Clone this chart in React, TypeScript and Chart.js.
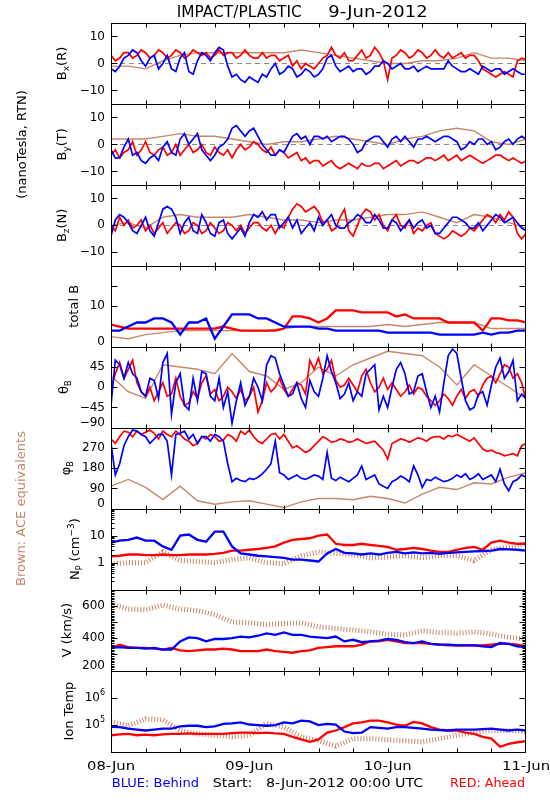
import React, { useEffect, useRef } from "react";
import { Chart, registerables } from "chart.js";

Chart.register(...registerables);

// ---- time base (hours since 8-Jun-2012 00:00 UTC) ----
const HOURS_FINE = [0, 1.5, 3, 4.5, 6, 7.5, 9, 10.5, 12, 13.5, 15, 16.5, 18, 19.5, 21, 22.5, 24, 25.5, 27, 28.5, 30, 31.5, 33, 34.5, 36, 37.5, 39, 40.5, 42, 43.5, 45, 46.5, 48, 49.5, 51, 52.5, 54, 55.5, 57, 58.5, 60, 61.5, 63, 64.5, 66, 67.5, 69, 70.5, 72];
const HOURS_COARSE = [0, 3, 6, 9, 12, 15, 18, 21, 24, 27, 30, 33, 36, 39, 42, 45, 48, 51, 54, 57, 60, 63, 66, 69, 72];
const MID_OFFSET_H = 0.75; // the *Mid arrays are read half-way between HOURS_FINE samples
const X_TICK_HOURS = [6, 12, 18, 24, 30, 36, 42, 48, 54, 60, 66];
const DAY_HOURS = [0, 24, 48, 72];
const DAY_LABELS = ["08-Jun", "09-Jun", "10-Jun", "11-Jun"];

// ---- Bx (R) ----
const bxBlue = [-2, -1, 3, 4, -1, 3, 0, -2, 2, -3, 1, 3, 4, 5, -5, -6, -5, -7, -5, 0, -3, -2, -4, -3, -4, 2, -1, -2, -3, -2, -3, -1, 0, -1, -2, -1, -2, -2, -2, 1, -2, -3, -3, -1, -3, -2, -3, -3, -4];
const bxBlueMid = [-3, 2, 5, 1, 2, -2, 3, -3, 4, -4, 4, 1, 6, -1, -4, -7, -6, -4, -2, -4, -1, -5, -2, -5, -2, 3, -3, -1, -2, -4, -1, 1, -2, 0, -2, -3, -1, -2, -2, -1, -3, -2, -4, -2, -2, -4, -2, -4];
const bxRed = [3, 2, 4, 3, 4, 3, 4, 3, 4, 3, 4, 4, 3, 3, 4, 3, 3, 2, 2, 3, 2, -1, -2, -1, 0, 3, 3, 4, 1, 5, 3, 4, -6, 3, 4, 3, 4, 3, 3, 4, 3, 2, 3, -2, -4, -4, -4, 1, 1.5];
const bxRedMid = [1, 4, 2, 5, 2, 5, 2, 5, 2, 5, 3, 2, 5, 4, 2, 5, 2, 4, 3, 1, 3, 1, 0, -2, 2, 6, 2, 1, 3, 2, 6, 1, 2, 5, 2, 5, 2, 5, 2, 2, 4, 3, 1, -3, -5, -3, -5, 2];
const bxBrown = [-1, -1, -2, 1, 3, 4, 4, 4, 4, 4, 4, 5, 4, 3, 2, 1, 0, 0, 1, 1, 2, 4, 2, 2, 1];

// ---- By (T) ----
const byBlue = [-2, -5, 2, -3, -7, -4, -1, -3, 2, 0, 4, -4, -4, 0, 6, 5, 5, 3, -2, -4, -3, 3, 2, 0, 3, 3, 2, 3, 0, -2, 2, 3, -1, 3, 3, -1, 2, 2, 2, 3, 1, -1, 0, 2, 1, -1, 2, 2, 2];
const byBlueMid = [-5, -1, -4, -6, -5, -6, 1, -4, 4, 2, -2, -6, -1, 2, 7, 3, 6, 0, -4, -2, 0, 4, 3, 3, 2, 1, 3, 2, -3, 1, 3, 1, 2, 1, 1, 2, 3, 1, 3, 2, -2, 1, 2, 0, -2, 1, 0, 3];
const byRed = [-4, -5, -2, -4, 1, -4, -1, -3, -4, 0, -2, -3, -1, -4, -5, 0, -1, 0, -3, -4, -3, -4, -6, -7, -6, -7, -8, -8, -8, -7, -8, -7, -8, -6, -7, -6, -6, -5, -5, -6, -4, -5, -5, -7, -5, -4, -6, -6, -6];
const byRedMid = [-2, -3, 1, -2, -3, -2, -4, 0, -2, -3, 0, -4, -3, -2, -2, -2, 1, -2, -1, -2, -5, -3, -5, -6, -8, -6, -9, -7, -9, -8, -7, -9, -7, -8, -6, -7, -5, -6, -4, -5, -6, -4, -6, -6, -4, -5, -5, -7];
const byBrown = [2, 2, 2, 3, 4, 3, 3, 2, 1, 0, 1, 1, 2, 3, 2, 1, 0, 2, 3, 5, 6, 5, 1, 0, 2];

// ---- Bz (N) ----
const bzBlue = [-4, 4, 1, -3, 3, -4, 6, 6, -3, 3, -3, 1, -4, 2, -5, -1, 1, 3, 2, 4, 1, -1, -3, 1, 3, 2, 0, -1, 2, 3, 1, 2, -1, 1, 0, -1, 2, 0, -3, 1, 3, 1, -1, -2, 2, 3, 2, 1, -2];
const bzBlueMid = [2, 3, -2, 0, -2, 1, 7, 3, 1, -2, 4, -3, 1, -3, -3, -4, 4, 5, 4, -1, 3, 2, -1, -2, 0, 4, -1, 1, 4, 1, 4, -1, 2, -2, 2, 1, -1, -3, -1, 3, 2, -1, 1, 0, 4, 1, 3, -1];
const bzRed = [0, 3, 2, 0, -2, -3, 1, -1, 0, -2, 0, -2, -1, -2, 0, 0, -1, 1, -2, -3, -1, 6, 7, 6, 5, 2, -1, 6, -4, 4, 5, 4, -2, 4, -1, -3, -2, 1, -4, -4, -3, -3, -2, 2, 3, 4, 5, -3, -3];
const bzRedMid = [-2, 0, -1, 2, 0, -1, -3, 1, -3, 1, -3, 1, -3, 1, -2, -3, 1, -1, 0, 0, 3, 8, 5, 7, 1, -2, 3, -2, 0, 6, 2, 0, 2, 0, 2, -1, 0, -3, -5, -2, -4, -1, 0, 4, 1, 2, 3, -5];
const bzBrown = [0, 1, -1, 3, 4, 3, 3, 3, 4, 3, 2, 2, 1, 2, 2, 3, 4, 4, 5, 3, 1, 4, 3, 1, -1];

// ---- total B ----
const btBlue = [4, 4, 5, 6, 6, 7, 7, 6, 3, 6, 6, 7, 2, 5, 8, 8, 8, 7, 7, 6, 5, 5, 5, 5, 4.5, 4.5, 4, 4, 4, 4, 4, 4, 3.5, 3.5, 3.5, 3.5, 3.5, 3.5, 3, 3, 3, 3, 3, 3.5, 3, 3.5, 3.5, 4, 4];
const btRed = [5.5, 5, 4.5, 4.5, 4.5, 4.5, 4.5, 4.5, 4.5, 4.5, 4.5, 4.5, 4.5, 5, 4.5, 4, 4, 4, 4, 4, 4.5, 7.5, 7.5, 7, 6, 7, 9, 9, 9, 8.5, 8.5, 8.5, 8.5, 7.5, 8, 7, 7, 7, 7, 6, 6, 6, 6, 4, 7, 7, 6.5, 6.5, 6];
const btBrown = [2.5, 2, 3, 3.5, 4, 4, 4, 4, 4, 4, 4.5, 5, 5, 5, 5, 5, 5.5, 5, 5.5, 6, 6, 6, 4.5, 4.5, 4.5];

// ---- theta B ----
const thBlue = [-40, 50, 55, 20, -20, 15, 55, -60, 30, -50, -30, 30, -30, -45, -80, 10, -20, 0, 50, 65, 5, -15, -25, 15, -20, 70, 10, -15, -30, -20, 40, -50, -45, 40, 30, -10, 30, -45, -55, 70, 75, -30, -45, -10, 5, 65, 35, -30, -25];
const thBlueMid = [60, 20, 30, -10, 20, -25, 75, 10, -40, 20, 35, -20, 20, -10, -30, -40, 20, -30, 70, 30, -20, 10, -45, -10, 20, 35, -25, 10, -10, 30, 50, -20, 0, 55, -15, 25, -10, -20, 10, 85, 20, -50, -15, -40, 45, 20, 60, -15];
const thRed = [0, 55, 40, 10, -20, -30, 10, -15, -20, -35, -25, 25, -5, -20, -10, -5, -20, -55, 10, 0, -5, -5, 5, 60, 65, 40, 15, 5, 5, 25, 10, 0, -5, -5, -10, -15, -5, -30, -30, -25, -20, -25, -5, 5, 25, 30, 45, 30, -30];
const thRedMid = [30, 20, 60, -10, 0, -10, -20, 20, -40, -10, 10, -15, -30, 0, -25, -30, 0, -30, -10, 20, -20, 10, -15, 40, 30, 60, 0, 20, -10, 40, -10, 20, 10, -20, 5, 0, -20, -40, -15, -40, -5, -10, -20, 20, 10, 50, 20, 10];
const thBrown = [25, -10, -25, 50, 45, 40, 30, 75, 35, 25, -5, 10, 45, 25, 50, 65, 80, 75, 70, 45, 5, 50, 25, 0, -25];

// ---- phi B ----
const phBlue = [290, 200, 320, 345, 320, 310, 330, 150, 335, 310, 290, 320, 330, 300, 120, 125, 135, 140, 175, 300, 150, 140, 135, 140, 145, 250, 125, 130, 135, 190, 140, 110, 90, 130, 135, 190, 95, 125, 130, 125, 150, 155, 140, 130, 150, 175, 80, 130, 140];
const phBlueMid = [150, 280, 350, 330, 290, 330, 300, 330, 345, 330, 320, 300, 320, 200, 135, 120, 130, 155, 200, 160, 130, 150, 130, 150, 130, 135, 140, 120, 150, 130, 150, 100, 120, 145, 120, 150, 130, 140, 120, 135, 140, 130, 155, 140, 120, 110, 120, 150];
const phRed = [310, 320, 340, 345, 340, 335, 345, 320, 330, 300, 290, 310, 320, 305, 320, 345, 350, 300, 310, 335, 330, 270, 265, 260, 300, 310, 300, 305, 300, 300, 295, 280, 220, 300, 305, 305, 310, 315, 320, 325, 330, 310, 315, 265, 260, 245, 240, 235, 290];
const phRedMid = [290, 345, 320, 330, 350, 310, 330, 345, 310, 280, 320, 330, 300, 330, 300, 330, 320, 290, 330, 310, 300, 280, 250, 280, 320, 295, 310, 295, 310, 290, 300, 260, 290, 310, 295, 315, 300, 320, 310, 320, 320, 300, 290, 255, 250, 235, 245, 280];
const phBrown = [100, 130, 95, 40, 100, 35, 20, 30, 35, 20, 5, 30, 45, 45, 40, 55, 45, 25, 65, 95, 85, 115, 110, 140, 160];

// ---- proton density ----
const npBlue = [5.5, 6.5, 7, 8.5, 6.5, 6.5, 4, 3, 10, 11, 7, 6, 14, 14, 4, 2.2, 2, 1.8, 1.7, 1.6, 1.5, 1.3, 1.3, 1.2, 1.1, 2.2, 3.2, 2.3, 2.2, 2, 2.2, 2, 2.3, 2.5, 2.2, 2.4, 2.2, 2.3, 2.1, 2.3, 2.4, 2.5, 2.6, 2.7, 2.8, 3.2, 3.1, 3, 2.8];
const npRed = [1.7, 1.8, 2, 2, 1.9, 1.9, 2, 1.9, 1.9, 2, 2, 2, 2.1, 2.3, 2.8, 2.8, 3, 3.2, 3.5, 4, 5.5, 7, 7.5, 8, 10, 11, 5, 4.5, 4.5, 5, 4.5, 4.2, 3.8, 3, 3.2, 3.5, 3.2, 2.8, 2.5, 2.5, 3, 3.5, 3.8, 3, 5.5, 6.5, 5.5, 5, 5];
const npBrown = [0.9, 1, 1, 2.5, 1.2, 1.1, 1, 1.3, 1.5, 1, 0.9, 1.8, 2.5, 2.2, 2, 1.5, 1.6, 1.8, 1.5, 1.8, 1.8, 1.2, 3, 4, 5];

// ---- speed ----
const vBlue = [340, 345, 340, 340, 335, 340, 330, 330, 380, 405, 400, 380, 395, 395, 400, 410, 405, 415, 430, 420, 435, 420, 420, 410, 405, 400, 410, 380, 390, 375, 380, 385, 395, 390, 375, 370, 380, 365, 360, 360, 355, 355, 355, 350, 345, 370, 365, 350, 345];
const vRed = [340, 360, 345, 340, 340, 335, 330, 340, 325, 320, 325, 330, 330, 335, 330, 320, 320, 320, 330, 320, 315, 310, 320, 325, 340, 345, 350, 350, 350, 360, 380, 380, 390, 380, 370, 370, 370, 365, 360, 355, 355, 355, 355, 355, 360, 365, 365, 360, 350];
const vBrown = [610, 580, 575, 605, 580, 570, 545, 500, 495, 485, 490, 495, 470, 460, 450, 440, 425, 420, 445, 435, 430, 440, 425, 405, 395];

// ---- ion temperature ----
const tBlue = [8.2e4, 8e4, 7e4, 6.5e4, 6e4, 6.5e4, 7e4, 7e4, 8.5e4, 9e4, 9e4, 8e4, 8.5e4, 1.05e5, 1.1e5, 1.2e5, 1e5, 9.5e4, 9e4, 9.5e4, 1.2e5, 1.1e5, 1.4e5, 1.3e5, 9.5e4, 1.05e5, 1e5, 5.5e4, 4.8e4, 5e4, 8e4, 7.5e4, 7e4, 8e4, 8e4, 7.5e4, 7e4, 6.5e4, 6.2e4, 6e4, 6.5e4, 6.5e4, 6.5e4, 6.8e4, 7e4, 6.5e4, 6e4, 6.5e4, 6e4];
const tRed = [4e4, 4.3e4, 4.5e4, 4e4, 4.2e4, 4e4, 4.3e4, 4.5e4, 4.5e4, 4.7e4, 4.5e4, 4.5e4, 4.5e4, 4.5e4, 4.8e4, 5e4, 5e4, 4.8e4, 5e4, 4.7e4, 4.5e4, 3.5e4, 2.8e4, 2.3e4, 2.8e4, 5e4, 6e4, 8e4, 1.1e5, 1.2e5, 1.4e5, 1.4e5, 1.2e5, 1e5, 9e4, 1.25e5, 1.1e5, 8e4, 6.5e4, 6e4, 6e4, 5e4, 4.5e4, 3.5e4, 3e4, 1.5e4, 1.9e4, 2.2e4, 2.4e4];
const tBrown = [1.25e5, 9e4, 1.6e5, 1.5e5, 6e4, 4.5e4, 4e4, 3.5e4, 4e4, 1.1e5, 8e4, 3.5e4, 2.5e4, 1.6e4, 3e4, 3e4, 2.7e4, 2.5e4, 2.3e4, 3e4, 4e4, 5e4, 6e4, 6e4, 5.5e4];

const NP_MINOR = [0.2, 0.3, 0.4, 0.5, 0.6, 0.7, 0.8, 0.9, 2, 3, 4, 5, 6, 7, 8, 9, 20, 30, 40, 50, 60, 70, 80, 90];

const FONT = '"DejaVu Sans", "Liberation Sans", sans-serif';
const BLUE = "#0000ff";
const RED = "#ff0000";
const BROWN = "#c8876a";

type Seg = { t: string; size: number; dy: number };
type TickLabel = { v: number; t: string; sup?: string };
type Panel = {
  id: string;
  type: "linear" | "logarithmic";
  min: number;
  max: number;
  blue: number[];
  blueMid?: number[];
  red: number[];
  redMid?: number[];
  brown: number[];
  ticks: number[];
  labels: TickLabel[];
  minor?: number[];
  minorBoth?: boolean;
  zero?: boolean;
  dotted?: boolean;
  title: Seg[];
  titleX: number;
};

const vMinor: number[] = [];
for (let v = 210; v < 700; v += 10) if (v % 100 !== 0) vMinor.push(v);

const PANELS: Panel[] = [
  {
    id: "yBx", type: "linear", min: -15, max: 15, blue: bxBlue, blueMid: bxBlueMid, red: bxRed, redMid: bxRedMid, brown: bxBrown,
    ticks: [-10, 0, 10], labels: [{ v: -10, t: "\u221210" }, { v: 0, t: "0" }, { v: 10, t: "10" }], zero: true,
    title: [{ t: "B", size: 13, dy: 0 }, { t: "x", size: 9, dy: 3 }, { t: "(R)", size: 13, dy: 0 }], titleX: 65.5,
  },
  {
    id: "yBy", type: "linear", min: -15, max: 15, blue: byBlue, blueMid: byBlueMid, red: byRed, redMid: byRedMid, brown: byBrown,
    ticks: [-10, 0, 10], labels: [{ v: -10, t: "\u221210" }, { v: 0, t: "0" }, { v: 10, t: "10" }], zero: true,
    title: [{ t: "B", size: 13, dy: 0 }, { t: "y", size: 9, dy: 3 }, { t: "(T)", size: 13, dy: 0 }], titleX: 65.5,
  },
  {
    id: "yBz", type: "linear", min: -15, max: 15, blue: bzBlue, blueMid: bzBlueMid, red: bzRed, redMid: bzRedMid, brown: bzBrown,
    ticks: [-10, 0, 10], labels: [{ v: -10, t: "\u221210" }, { v: 0, t: "0" }, { v: 10, t: "10" }], zero: true,
    title: [{ t: "B", size: 13, dy: 0 }, { t: "z", size: 9, dy: 3 }, { t: "(N)", size: 13, dy: 0 }], titleX: 65.5,
  },
  {
    id: "yBt", type: "linear", min: 0, max: 20, blue: btBlue, red: btRed, brown: btBrown,
    ticks: [10, 15], labels: [{ v: 0, t: "0" }, { v: 10, t: "10" }],
    title: [{ t: "total B", size: 13, dy: 0 }], titleX: 78,
  },
  {
    id: "yTh", type: "linear", min: -90, max: 90, blue: thBlue, blueMid: thBlueMid, red: thRed, redMid: thRedMid, brown: thBrown,
    ticks: [-45, 0, 45], labels: [{ v: -90, t: "\u221290" }, { v: -45, t: "\u221245" }, { v: 0, t: "0" }, { v: 45, t: "45" }],
    title: [{ t: "\u03b8", size: 13, dy: 0 }, { t: "B", size: 8, dy: 3 }], titleX: 68,
  },
  {
    id: "yPh", type: "linear", min: 0, max: 360, blue: phBlue, blueMid: phBlueMid, red: phRed, redMid: phRedMid, brown: phBrown,
    ticks: [90, 180, 270], labels: [{ v: 0, t: "0" }, { v: 90, t: "90" }, { v: 180, t: "180" }, { v: 270, t: "270" }],
    title: [{ t: "\u03c6", size: 13, dy: 0 }, { t: "B", size: 8, dy: 3 }], titleX: 70,
  },
  {
    id: "yNp", type: "logarithmic", min: 0.1, max: 100, blue: npBlue, red: npRed, brown: npBrown,
    ticks: [1, 10], labels: [{ v: 1, t: "1" }, { v: 10, t: "10" }], minor: NP_MINOR, minorBoth: false, dotted: true,
    title: [{ t: "N", size: 13, dy: 0 }, { t: "P", size: 8, dy: 3 }, { t: " (cm", size: 13, dy: 0 }, { t: "\u22123", size: 9, dy: -5 }, { t: ")", size: 13, dy: 0 }], titleX: 79,
  },
  {
    id: "yV", type: "linear", min: 200, max: 700, blue: vBlue, red: vRed, brown: vBrown,
    ticks: [300, 400, 500, 600], labels: [{ v: 200, t: "200" }, { v: 400, t: "400" }, { v: 600, t: "600" }], minor: vMinor, minorBoth: true, dotted: true,
    title: [{ t: "V (km/s)", size: 13, dy: 0 }], titleX: 70.5,
  },
  {
    id: "yT", type: "logarithmic", min: 1e4, max: 1e7, blue: tBlue, red: tRed, brown: tBrown,
    ticks: [1e5, 1e6], labels: [{ v: 1e5, t: "10", sup: "5" }, { v: 1e6, t: "10", sup: "6" }], dotted: true,
    title: [{ t: "Ion Temp", size: 13, dy: 0 }], titleX: 72.5,
  },
];

function fitText(ctx: CanvasRenderingContext2D, text: string, x: number, y: number, w: number, size: number, color: string, align: "left" | "center" | "right") {
  ctx.save();
  ctx.font = `${size}px ${FONT}`;
  ctx.fillStyle = color;
  ctx.textAlign = "left";
  ctx.textBaseline = "alphabetic";
  const m = ctx.measureText(text).width;
  const s = w / m;
  const x0 = align === "center" ? x - w / 2 : align === "right" ? x - w : x;
  ctx.translate(x0, y);
  ctx.scale(s, 1);
  ctx.fillText(text, 0, 0);
  ctx.restore();
}

function drawRot(ctx: CanvasRenderingContext2D, x: number, yc: number, segs: Seg[], color: string) {
  ctx.save();
  ctx.fillStyle = color;
  ctx.textAlign = "left";
  ctx.textBaseline = "alphabetic";
  let total = 0;
  for (const s of segs) {
    ctx.font = `${s.size}px ${FONT}`;
    total += ctx.measureText(s.t).width;
  }
  ctx.translate(x, yc + total / 2);
  ctx.rotate(-Math.PI / 2);
  let cx = 0;
  for (const s of segs) {
    ctx.font = `${s.size}px ${FONT}`;
    ctx.fillText(s.t, cx, s.dy);
    cx += ctx.measureText(s.t).width;
  }
  ctx.restore();
}

const idlPlugin = {
  id: "idlFrame",
  beforeDatasetsDraw(chart: any) {
    const ctx = chart.ctx as CanvasRenderingContext2D;
    const area = chart.chartArea;
    ctx.save();
    ctx.strokeStyle = "#8a8a8a";
    ctx.lineWidth = 1;
    ctx.setLineDash([5, 4]);
    for (const p of PANELS) {
      if (!p.zero) continue;
      const y = Math.round(chart.scales[p.id].getPixelForValue(0)) + 0.5;
      ctx.beginPath();
      ctx.moveTo(area.left, y);
      ctx.lineTo(area.right, y);
      ctx.stroke();
    }
    ctx.restore();
  },
  beforeDatasetDraw(chart: any, args: any) {
    const ds = chart.data.datasets[args.index];
    const s = chart.scales[ds.yAxisID];
    const area = chart.chartArea;
    const ctx = chart.ctx as CanvasRenderingContext2D;
    ctx.save();
    ctx.beginPath();
    ctx.rect(area.left, s.top, area.right - area.left, s.bottom - s.top);
    ctx.clip();
  },
  afterDatasetDraw(chart: any) {
    chart.ctx.restore();
  },
  afterDraw(chart: any) {
    const ctx = chart.ctx as CanvasRenderingContext2D;
    const area = chart.chartArea;
    const xs = chart.scales.x;
    const L = Math.round(area.left) + 0.5;
    const R = Math.round(area.right) - 0.5;
    const line = (x1: number, y1: number, x2: number, y2: number) => {
      ctx.beginPath();
      ctx.moveTo(x1, y1);
      ctx.lineTo(x2, y2);
      ctx.stroke();
    };
    ctx.save();
    ctx.strokeStyle = "#000";
    ctx.lineWidth = 1;
    ctx.setLineDash([]);
    for (const p of PANELS) {
      const s = chart.scales[p.id];
      const T = Math.round(s.top) + 0.5;
      const B = Math.round(s.bottom) + 0.5;
      ctx.strokeRect(L, T, R - L, B - T);
      for (const h of X_TICK_HOURS) {
        const x = Math.round(xs.getPixelForValue(h)) + 0.5;
        line(x, T, x, T + 4);
        line(x, B, x, B - 4);
      }
      for (const v of p.ticks) {
        const y = Math.round(s.getPixelForValue(v)) + 0.5;
        line(L, y, L + 6, y);
        line(R, y, R - 6, y);
      }
      if (p.minor) {
        for (const v of p.minor) {
          const y = Math.round(s.getPixelForValue(v)) + 0.5;
          line(L, y, L + 3, y);
          if (p.minorBoth) line(R, y, R - 3, y);
        }
      }
      ctx.fillStyle = "#000";
      ctx.textAlign = "right";
      ctx.textBaseline = "middle";
      for (const lb of p.labels) {
        let y = s.getPixelForValue(lb.v);
        if (lb.v === p.min) y -= 5;
        if (lb.sup) {
          ctx.font = `8px ${FONT}`;
          const w = ctx.measureText(lb.sup).width;
          ctx.fillText(lb.sup, 105, y - 5);
          ctx.font = `12px ${FONT}`;
          ctx.fillText(lb.t, 105 - w, y);
        } else {
          ctx.font = `12px ${FONT}`;
          ctx.fillText(lb.t, 105, y);
        }
      }
      drawRot(ctx, p.titleX, (s.top + s.bottom) / 2, p.title, "#000");
    }
    ctx.restore();

    // outer texts
    fitText(ctx, "IMPACT/PLASTIC", 176.7, 16.7, 125, 15, "#000", "left");
    fitText(ctx, "9-Jun-2012", 328.3, 16.7, 99.3, 15, "#000", "left");
    const s1 = chart.scales.yBy;
    drawRot(ctx, 25.5, (s1.top + s1.bottom) / 2, [{ t: "(nanoTesla, RTN)", size: 13, dy: 0 }], "#000");
    drawRot(ctx, 24.5, 508.5, [{ t: "Brown: ACE equivalents", size: 13, dy: 0 }], BROWN);
    DAY_HOURS.forEach((h, i) => {
      fitText(ctx, DAY_LABELS[i], xs.getPixelForValue(h), 770, 48, 13, "#000", "center");
    });
    fitText(ctx, "BLUE: Behind", 111.7, 787, 87.3, 13, BLUE, "left");
    fitText(ctx, "Start:   8-Jun-2012 00:00 UTC", 212.7, 787, 210.6, 13, "#000", "left");
    fitText(ctx, "RED: Ahead", 450, 787, 75, 13, RED, "left");
  },
};

function series(hours: number[], values: number[], mid?: number[]) {
  const out: { x: number; y: number }[] = [];
  values.forEach((v, i) => {
    if (hours[i] === undefined) return;
    out.push({ x: hours[i], y: v });
    if (mid && i < mid.length && i < values.length - 1) out.push({ x: hours[i] + MID_OFFSET_H, y: mid[i] });
  });
  return out;
}

export default function App() {
  const ref = useRef<HTMLCanvasElement | null>(null);
  useEffect(() => {
    if (!ref.current) return;
    const datasets: any[] = [];
    const scales: any = {
      x: { type: "linear", min: 0, max: 72, display: false },
    };
    for (const p of PANELS) {
      scales[p.id] = {
        type: p.type,
        min: p.min,
        max: p.max,
        position: "right",
        stack: "panels",
        stackWeight: 1,
        display: false,
      };
      const noisy = !!p.blueMid;
      datasets.push({
        data: series(HOURS_FINE, p.blue, p.blueMid),
        yAxisID: p.id,
        xAxisID: "x",
        borderColor: BLUE,
        borderWidth: noisy ? 1.7 : 2.3,
        pointRadius: 0,
        order: 0,
      });
      datasets.push({
        data: series(HOURS_FINE, p.red, p.redMid),
        yAxisID: p.id,
        xAxisID: "x",
        borderColor: RED,
        borderWidth: noisy ? 1.7 : 2.3,
        pointRadius: 0,
        order: 1,
      });
      datasets.push({
        data: series(HOURS_COARSE, p.brown),
        yAxisID: p.id,
        xAxisID: "x",
        borderColor: BROWN,
        borderWidth: p.dotted ? 5 : 1.4,
        borderDash: p.dotted ? [1, 2] : [],
        pointRadius: 0,
        order: 2,
      });
    }
    const chart = new Chart(ref.current, {
      type: "line",
      data: { datasets },
      options: {
        animation: false,
        responsive: false,
        devicePixelRatio: 1,
        events: [],
        layout: { padding: { left: 111, right: 24, top: 23, bottom: 48.5 } },
        plugins: { legend: { display: false }, tooltip: { enabled: false } },
        scales,
      } as any,
      plugins: [idlPlugin as any],
    });
    return () => chart.destroy();
  }, []);
  return (
    <div style={{ position: "absolute", left: 0, top: 0, width: 550, height: 800, background: "#fff" }}>
      <canvas ref={ref} width={550} height={800} style={{ display: "block" }} />
    </div>
  );
}
